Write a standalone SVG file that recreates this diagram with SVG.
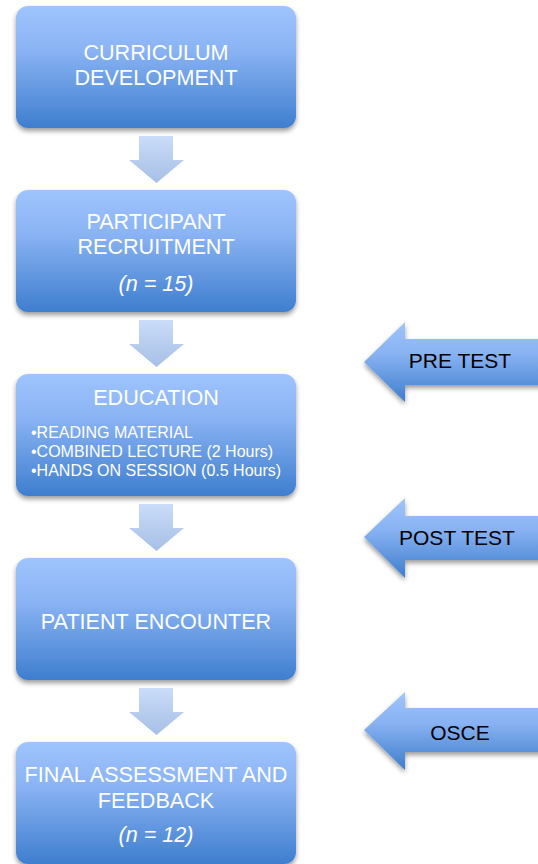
<svg xmlns="http://www.w3.org/2000/svg" width="538" height="864" viewBox="0 0 538 864">
<defs>
<linearGradient id="gBox" x1="0" y1="0" x2="0" y2="1">
<stop offset="0" stop-color="#9fc4fd"/>
<stop offset="0.35" stop-color="#8bb4f4"/>
<stop offset="1" stop-color="#3e7ece"/>
</linearGradient>
<linearGradient id="gDown" x1="0" y1="0" x2="0" y2="1">
<stop offset="0" stop-color="#c9dcf8"/>
<stop offset="1" stop-color="#a7bfe6"/>
</linearGradient>
<linearGradient id="gLeft" x1="0" y1="0" x2="0" y2="1">
<stop offset="0" stop-color="#a0c5fd"/>
<stop offset="0.4" stop-color="#88b2f2"/>
<stop offset="1" stop-color="#3e7dcd"/>
</linearGradient>
<filter id="sh" x="-10%" y="-10%" width="120%" height="130%">
<feGaussianBlur in="SourceAlpha" stdDeviation="2.5"/>
<feOffset dx="0" dy="3" result="b"/>
<feComponentTransfer><feFuncA type="linear" slope="0.4"/></feComponentTransfer>
<feMerge><feMergeNode/><feMergeNode in="SourceGraphic"/></feMerge>
</filter>
</defs>
<style>
.box{fill:url(#gBox);filter:url(#sh)}
.down{fill:url(#gDown)}
.left{fill:url(#gLeft);filter:url(#sh)}
.t{font-family:"Liberation Sans",Arial,sans-serif;fill:#fff;font-size:21.6px;text-anchor:middle}
.it{font-style:italic}
.b{font-family:"Liberation Sans",Arial,sans-serif;fill:#fff;font-size:16px}
.k{font-family:"Liberation Sans",Arial,sans-serif;fill:#000;font-size:21px;text-anchor:middle}
</style>
<g id="connectors">
<path class="down" d="M139,136 H173 V160 H184 L156.5,183 L129,160 H139 Z"/>
<path class="down" d="M139,320 H173 V344 H184 L156.5,367 L129,344 H139 Z"/>
<path class="down" d="M139,504 H173 V528 H184 L156.5,551 L129,528 H139 Z"/>
<path class="down" d="M139,688 H173 V712 H184 L156.5,735 L129,712 H139 Z"/>
</g>
<g id="n1"><rect class="box" x="16" y="6" width="280" height="122" rx="12"/>
<text class="t" x="156" y="60">CURRICULUM</text><text class="t" x="156" y="85">DEVELOPMENT</text></g>
<g id="n2"><rect class="box" x="16" y="190" width="280" height="122" rx="12"/>
<text class="t" x="156" y="229">PARTICIPANT</text><text class="t" x="156" y="254">RECRUITMENT</text>
<text class="t it" x="156" y="291">(n = 15)</text></g>
<g id="n3"><rect class="box" x="16" y="374" width="280" height="122" rx="12"/>
<text class="t" x="156" y="405">EDUCATION</text>
<text class="b" x="31" y="438">•READING MATERIAL</text>
<text class="b" x="31" y="457">•COMBINED LECTURE (2 Hours)</text>
<text class="b" x="31" y="476">•HANDS ON SESSION (0.5 Hours)</text></g>
<g id="n4"><rect class="box" x="16" y="558" width="280" height="122" rx="12"/>
<text class="t" x="156" y="629">PATIENT ENCOUNTER</text></g>
<g id="n5"><rect class="box" x="16" y="742" width="280" height="122" rx="12"/>
<text class="t" x="156" y="782">FINAL ASSESSMENT AND</text><text class="t" x="156" y="808">FEEDBACK</text>
<text class="t it" x="156" y="842">(n = 12)</text></g>
<g id="pre"><path class="left" d="M364,362 L405,322 V339 H545 V385 H405 V402 Z"/>
<text class="k" x="460" y="368">PRE TEST</text></g>
<g id="post"><path class="left" d="M364,537 L405,498 V516 H545 V560 H405 V578 Z"/>
<text class="k" x="457" y="545">POST TEST</text></g>
<g id="osce"><path class="left" d="M364,730 L405,692 V708 H545 V752 H405 V770 Z"/>
<text class="k" x="460" y="740">OSCE</text></g>
</svg>
